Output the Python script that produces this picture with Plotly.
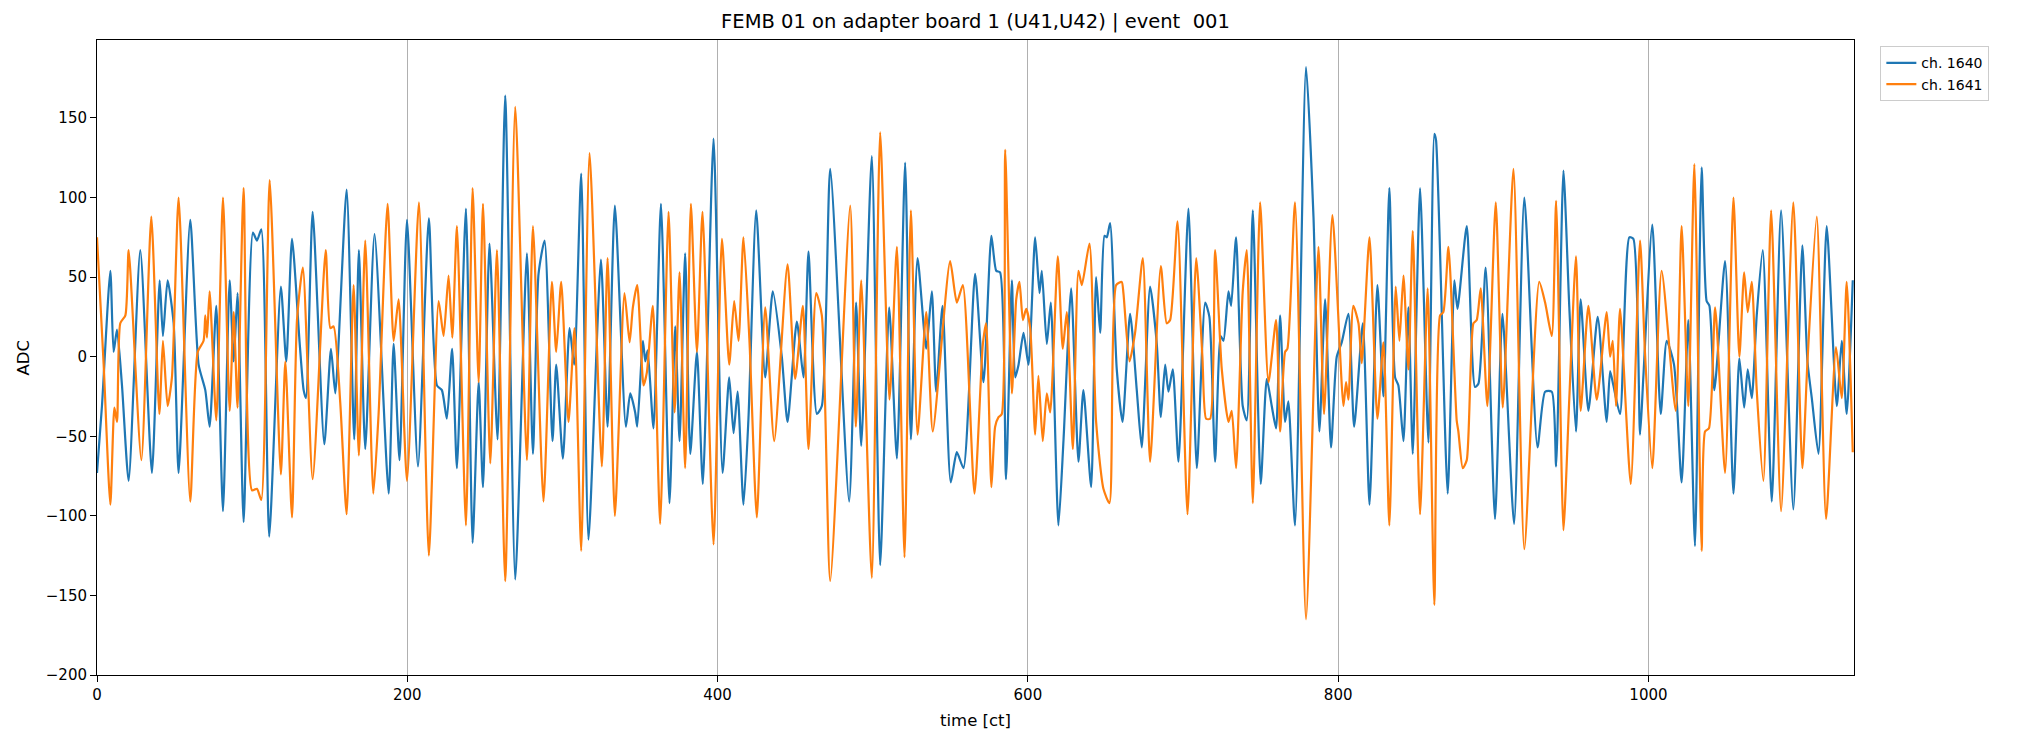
import plotly.graph_objects as go

# ---- data (time in ct, ADC value) ----
t_1640 = [0.0, 3.2, 8.6, 10.7, 12.9, 16.1, 20.4, 27.9, 35.4, 40.4, 42.5, 45.5, 49.4, 52.6, 60.1, 65.5, 69.8, 72.6, 76.9, 81.2,
          85.5, 88.1, 90.6, 94.5, 100.5, 103.1, 105.9, 111.0, 118.5, 122.0, 125.7, 130.6, 133.2, 134.7, 139.0, 146.5, 150.8, 153.6, 160.9, 165.8,
          168.8, 172.9, 178.9, 188.0, 191.2, 195.0, 199.8, 206.9, 213.9, 219.1, 222.3, 225.5, 228.9, 232.0, 237.8, 242.1, 246.0, 248.8, 253.0, 258.2,
          263.1, 269.6, 277.1, 281.0, 284.6, 288.5, 293.6, 296.0, 300.3, 304.6, 307.6, 312.1, 316.8, 324.8, 329.1, 333.8, 340.9, 343.7, 346.9, 348.2,
          351.9, 353.4, 354.9, 358.7, 363.5, 369.0, 372.7, 375.5, 379.1, 382.4, 386.7, 390.5, 397.4, 403.2, 407.5, 410.3, 412.9, 416.7, 419.9, 424.9,
          430.7, 435.6, 441.4, 445.1, 451.1, 455.4, 458.6, 464.0, 467.2, 472.6, 484.8, 489.3, 492.6, 499.4, 504.8, 510.6, 515.6, 520.9, 524.6, 528.9,
          534.5, 538.1, 540.9, 545.0, 550.3, 554.2, 558.5, 566.0, 571.4, 576.5, 579.6, 582.1, 585.9, 589.7, 591.8, 594.0, 597.2, 600.4, 604.7, 607.5,
          609.0, 612.2, 614.8, 619.7, 623.0, 627.9, 632.6, 635.8, 640.8, 644.0, 646.6, 649.4, 650.9, 653.0, 657.3, 661.0, 665.9, 670.2, 673.4, 678.8,
          683.1, 685.7, 688.5, 690.6, 693.4, 697.1, 703.5, 708.9, 714.3, 717.0, 720.7, 724.3, 726.1, 729.3, 731.0, 734.2, 738.5, 741.1, 745.0, 750.1,
          754.0, 757.2, 760.0, 762.6, 765.8, 767.9, 772.2, 779.3, 784.1, 787.9, 791.6, 795.4, 799.1, 802.3, 806.6, 810.3, 815.9, 820.2, 825.3, 829.2,
          833.0, 836.7, 838.8, 842.1, 845.3, 848.1, 852.8, 858.2, 862.0, 863.1, 870.6, 874.9, 876.9, 882.9, 888.2, 890.4, 895.1, 901.1, 905.9, 913.4,
          920.0, 928.5, 933.4, 937.7, 940.5, 945.2, 949.0, 953.3, 956.3, 961.3, 967.3, 973.1, 975.3, 977.4, 981.7, 987.7, 990.3, 994.6, 996.7, 1002.5,
          1007.9, 1011.8, 1016.5, 1021.4, 1025.7, 1030.0, 1034.3, 1037.5, 1039.3, 1042.5, 1049.4, 1054.8, 1058.6, 1061.7, 1064.0, 1066.6, 1069.8, 1073.7, 1079.5, 1085.5,
          1093.4, 1099.2, 1102.5, 1105.3, 1109.6, 1114.9, 1121.4, 1124.6, 1127.8, 1131.7]
adc_1640 = [-73, -31, 54, 3, 17, -18, -78, 67, -73, 48, 13, 48, 21, -73, 86, -5, -21, -44, 32, -97,
            48, -3, 40, -104, 78, 73, 80, -113, 44, -3, 74, 9, -21, -26, 91, -55, 5, -23, 105, -52,
            67, -58, 77, -86, 8, -65, 86, -69, 87, -18, -21, -39, 5, -70, 93, -117, -16, -82, 71, -52,
            164, -140, 65, -61, 52, 73, -53, -5, -64, 18, -5, 115, -115, 61, -44, 95, -44, -23, -35, -44,
            10, -3, 4, -45, 96, -92, 19, -53, 65, -61, 3, -80, 137, -73, -13, -48, -22, -93, -39, 92,
            -13, 41, 0, -41, 22, -13, 66, -36, -31, 118, -91, 34, -56, 126, -131, 31, -64, 122, -52, 62,
            5, 41, -22, 32, -79, -60, -70, 52, -16, 76, 54, 53, -77, 48, -13, -5, 15, -5, 75, 40,
            54, 8, 34, -106, -52, 43, -66, -21, -82, 50, 15, 76, 75, 84, -8, -41, 27, -21, -57, 44,
            8, -38, -5, -22, -8, -66, 93, -70, 34, 25, -66, 13, 10, 41, 32, 75, -31, -40, 92, -80,
            -14, -31, -45, 26, -41, -28, -106, 182, 88, -47, 36, -57, 0, 9, 27, -44, 21, -93, 45, -25,
            106, -13, -18, -53, 31, -61, 106, -54, 140, 136, -86, 48, 30, 82, -19, -17, 56, -102, 27, -105,
            100, -57, -22, -22, -69, 117, 31, -47, 36, -34, 25, -41, -9, -18, -36, 75, 74, -49, -13, 83,
            -36, 10, -5, -79, 23, -119, 119, 35, 32, -21, 60, -86, -1, -32, -8, -26, 26, 67, -91, 92,
            -96, 70, -3, -26, -61, 82, -31, 10, -36, 48]

t_1641 = [0.0, 4.3, 8.6, 11.2, 12.9, 15.0, 18.3, 20.4, 28.6, 35.0, 40.2, 42.5, 45.5, 48.3, 52.6, 60.1, 64.9, 68.7, 69.8, 70.9,
          72.6, 76.9, 81.2, 85.5, 88.1, 90.6, 94.5, 99.9, 103.1, 105.9, 111.3, 118.5, 121.4, 125.7, 128.9, 132.7, 139.0, 147.4, 150.4, 152.5,
          156.8, 160.9, 165.4, 168.8, 172.9, 178.1, 181.5, 187.3, 191.2, 194.4, 199.8, 207.5, 213.9, 220.2, 223.4, 226.6, 229.0, 232.0, 237.8, 242.1,
          246.0, 248.8, 253.5, 257.8, 263.1, 269.6, 277.1, 281.0, 287.8, 293.2, 296.0, 299.2, 303.9, 307.8, 312.1, 317.5, 325.4, 329.1, 333.8, 340.0,
          343.3, 345.4, 348.2, 352.3, 354.4, 358.3, 363.0, 368.4, 372.3, 375.5, 379.1, 382.8, 386.7, 390.3, 397.4, 402.8, 407.5, 410.7, 413.5, 416.7,
          420.6, 425.3, 430.7, 436.5, 445.1, 450.0, 455.0, 458.6, 463.6, 467.2, 472.6, 485.5, 489.1, 492.6, 499.4, 504.8, 510.8, 515.6, 520.5, 524.6,
          528.9, 534.5, 538.7, 549.9, 554.2, 558.1, 565.6, 571.0, 573.1, 576.5, 578.9, 581.1, 583.2, 585.4, 589.7, 592.5, 594.6, 596.8, 598.9, 601.5,
          604.7, 606.8, 609.6, 612.2, 614.4, 619.3, 622.5, 625.1, 629.0, 632.6, 634.8, 639.7, 644.0, 648.7, 652.6, 656.9, 660.5, 661.6, 665.5, 669.1,
          674.1, 678.8, 685.7, 689.5, 691.7, 696.5, 702.9, 708.5, 712.5, 714.9, 717.5, 720.7, 725.0, 729.3, 731.4, 734.2, 738.5, 741.1, 745.0, 749.7,
          755.1, 760.0, 762.6, 765.8, 767.3, 772.2, 779.3, 787.3, 790.9, 796.3, 803.4, 805.1, 806.6, 809.8, 813.1, 815.2, 820.2, 825.3, 829.2, 833.0,
          837.1, 839.5, 842.1, 845.3, 848.1, 852.8, 857.7, 862.0, 865.7, 867.8, 871.1, 876.4, 877.5, 880.3, 882.9, 887.2, 889.3, 891.9, 896.2, 901.6,
          906.1, 913.0, 920.0, 929.6, 933.4, 937.7, 940.5, 945.2, 949.0, 953.3, 956.3, 961.3, 966.7, 973.1, 975.3, 977.0, 979.1, 981.7, 988.6, 994.6,
          997.8, 1002.5, 1008.5, 1017.6, 1021.4, 1025.7, 1029.6, 1034.3, 1036.5, 1039.0, 1043.0, 1049.4, 1054.8, 1058.6, 1061.7, 1064.0, 1066.6, 1069.8, 1074.1, 1079.1,
          1085.5, 1093.4, 1099.2, 1102.5, 1108.5, 1114.5, 1120.9, 1124.6, 1127.8, 1131.7]
adc_1641 = [75, -5, -93, -32, -41, 21, 26, 67, -65, 88, -36, 10, -31, -13, 100, -91, 3, 10, 26, 12,
            41, -40, 100, -34, 28, -32, 106, -84, -83, -90, 111, -74, -3, -101, 23, 56, -77, 67, 18, 19,
            -29, -99, 45, -62, 73, -86, -36, 96, 10, 36, -78, 97, -125, 35, 13, 51, 12, 82, -106, 106,
            -16, 96, -67, 67, -141, 157, -65, 82, -91, 47, 3, 47, -41, 18, -122, 128, -69, 62, -100, 40,
            9, 31, 45, -18, -10, 32, -105, 91, -35, 53, -70, 96, 3, 91, -118, 74, -5, 35, 10, 75,
            9, -101, 31, -53, 58, -14, 32, -58, 40, 26, -141, 95, -44, 48, -139, 141, -27, 69, -126, 92,
            -49, 28, -47, 60, 34, 45, -86, 8, 21, -82, -44, -38, -36, 130, -23, 36, 47, 23, 30, 18,
            -49, -12, -53, -23, -35, 63, 5, 28, -58, 54, 45, 71, -41, -83, -92, 45, 47, 40, -3, 15,
            62, -66, 57, 21, 23, 85, -99, 62, 0, -39, -39, 67, -8, -41, -34, -70, 41, 67, -92, 97,
            -16, 23, -47, 3, 5, 97, -165, 69, -36, 89, -31, -16, -27, 32, 21, -4, 75, -39, 9, -106,
            44, 10, 51, -8, 79, -99, 43, -156, 26, 28, 69, -40, -47, -70, -65, 21, 23, 43, -31, 97,
            -32, 118, -121, 47, 34, 13, 98, -109, -26, 63, -34, 32, -27, 28, 0, 10, -31, 30, -80, 73,
            2, -70, 54, -34, 82, -31, 121, -122, -47, -45, 31, -73, 100, 0, 53, 28, 47, -21, -78, 92,
            -97, 97, -70, -3, 88, -102, 6, -26, 47, -60]

series_names = ["ch. 1640", "ch. 1641"]
series_colors = ["#1f77b4", "#ff7f0e"]
x_ticks = [0, 200, 400, 600, 800, 1000]
y_ticks = [-200, -150, -100, -50, 0, 50, 100, 150]
title_text = "FEMB 01 on adapter board 1 (U41,U42) | event  001"

FONT = "DejaVu Sans, Liberation Sans, sans-serif"

fig = go.Figure()
for t, v, name, col in [(t_1640, adc_1640, series_names[0], series_colors[0]),
                        (t_1641, adc_1641, series_names[1], series_colors[1])]:
    fig.add_trace(go.Scatter(x=t, y=v, mode="lines", name=name,
                             line=dict(color=col, width=2.2, shape="spline", smoothing=0.6)))

fig.update_layout(
    width=2023, height=747,
    margin=dict(l=97, r=169, t=40, b=72),
    paper_bgcolor="white", plot_bgcolor="white",
    font=dict(family=FONT, size=15, color="black"),
    title=dict(text=title_text, x=0.5, xref="paper", y=1 - 21 / 747, yref="container",
               xanchor="center", yanchor="middle", font=dict(family=FONT, size=19.5, color="black")),
    showlegend=True,
    legend=dict(x=1.015, y=0.99, xanchor="left", yanchor="top", bgcolor="white",
                bordercolor="#cccccc", borderwidth=1, font=dict(family=FONT, size=14)),
)
fig.update_xaxes(range=[0, 1132.5], tickvals=x_ticks, ticks="outside", ticklen=6, tickcolor="black",
                 tickfont=dict(size=15),
                 showline=True, linecolor="black", linewidth=1, mirror=True,
                 showgrid=True, gridcolor="#b0b0b0", gridwidth=1, zeroline=False)
fig.update_yaxes(range=[-200, 199], tickvals=y_ticks, ticks="outside", ticklen=6, tickcolor="black",
                 tickfont=dict(size=15),
                 showline=True, linecolor="black", linewidth=1, mirror=True,
                 showgrid=False, zeroline=False)
fig.add_annotation(text="time [ct]", x=0.5, y=-(720 - 675) / 635, xref="paper", yref="paper",
                   showarrow=False, xanchor="center", yanchor="middle", font=dict(family=FONT, size=16.5))
fig.add_annotation(text="ADC", x=(23 - 97) / 1757, y=0.5, xref="paper", yref="paper", textangle=-90,
                   showarrow=False, xanchor="center", yanchor="middle", font=dict(family=FONT, size=16.5))

fig.write_html("out.html")
